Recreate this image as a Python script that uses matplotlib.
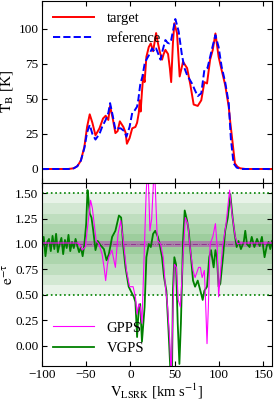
import numpy as np
import matplotlib
matplotlib.use("Agg")
import matplotlib.pyplot as plt

plt.rcParams['font.family'] = ['Liberation Serif', 'DejaVu Serif']
plt.rcParams['mathtext.fontset'] = 'stix'
plt.rcParams['font.size'] = 10

# emission spectra (top panel)
target_v = [-100, -70, -64, -60, -56, -52, -49, -46, -43, -39.5, -35, -31, -28, -25, -23, -20, -17,
            -14.5, -12, -8, -5.5, -4, -1, 2, 5.6, 7.5, 9.4, 10.5, 11.5, 13, 14.5, 16, 18, 20.7, 23,
            25.6, 29, 31, 33, 35.7, 37.5, 39.5, 42.5, 44.5, 46, 48, 49.6, 52.6, 55.6, 59.4, 64, 67.7,
            71.4, 76, 80, 83.5, 86.5, 90, 93, 96, 99.6, 103, 107, 111, 113, 115, 118, 121, 124, 130, 160]
target_T = [0, 0, 0.5, 2, 6, 16, 30, 39, 33, 24, 29, 36, 38, 35, 45, 36, 25.6,
            27, 34, 30, 26, 18, 22, 29, 30, 33, 40, 49, 41, 55, 67, 62, 80, 87, 89.6,
            84, 97, 90, 84, 78, 82, 85, 82, 72, 62, 90, 104, 97, 66, 76.5, 72, 60,
            46, 45, 49, 62, 61, 78, 85, 96.7, 80, 70.6, 60, 44.5, 32, 21, 4, 1.5, 0.5, 0, 0]

ref_v = [-100, -70, -64, -60, -56, -52, -49, -46, -43, -39.5, -35, -32, -28, -25, -23, -20, -17,
         -14, -11, -7, -4.5, -1, 2, 5, 7.5, 9, 11, 13.5, 16, 18, 20.7, 24.4, 27, 29, 31.5, 34,
         36.5, 39.5, 42, 44, 46, 48.5, 50.7, 52.5, 54.5, 58, 61, 64, 69.5, 73, 76, 80, 83.5, 87,
         90, 93, 96, 99.6, 103, 107, 111, 113.5, 116.5, 120, 125, 160]
ref_T = [0, 0, 0.5, 2, 6, 15, 26, 31.5, 25, 21, 25, 30, 35, 40, 47, 38, 28,
         29, 29, 27, 23, 30, 40, 42, 44.5, 50, 60, 66, 75, 78, 81, 86, 84, 86, 82, 78,
         85, 92, 90, 89.6, 92, 100, 107, 103, 98, 82, 72, 67, 61, 56, 52, 54, 70.6, 72,
         80, 88, 95.5, 87, 73, 62, 47, 21, 4, 1, 0, 0]

# absorption spectra (bottom panel), (velocity, e^-tau)
vgps = [(-100, 0.97), (-98, 1.07), (-96, 0.88), (-94, 1.02), (-92, 1.05), (-90, 0.93), (-88, 1.08),
        (-86, 0.95), (-84, 1.1), (-82, 0.92), (-80, 1.0), (-78, 1.06), (-76, 0.9), (-74, 1.04),
        (-72, 0.96), (-70, 1.09), (-68, 0.93), (-66, 1.02), (-64, 0.96), (-62, 1.05), (-60, 0.98),
        (-58, 0.92), (-56, 0.97), (-54, 0.88), (-52, 1.0), (-50, 1.2), (-48.5, 1.53), (-47.5, 1.45),
        (-46, 1.3), (-44, 1.26), (-42, 1.13), (-39.5, 0.94), (-37, 1.03), (-34, 0.99), (-30, 0.95),
        (-27, 0.84), (-24.4, 0.9), (-20.7, 1.07), (-17, 1.13), (-13, 1.28), (-10.5, 1.26), (-8, 0.97),
        (-5.6, 0.77), (-2, 0.58), (2, 0.51), (3.8, 0.48), (5.6, 0.43), (7.5, 0.085), (9.4, 0.38),
        (11, 0.41), (13, 0.04), (16, 0.38), (18, 0.87), (20.7, 1.0), (23, 0.97), (25.6, 1.1),
        (28, 1.13), (31, 1.07), (33, 1.0), (35.7, 0.87), (38, 0.67), (40.6, 0.54), (43, 0.15),
        (45, -0.22), (47, -0.22), (48, 0.54), (49.6, 0.87), (51.5, 0.8), (53.4, 0.22), (55.3, -0.18),
        (57, 0.22), (59.4, 1.03), (61.3, 1.33), (64, 1.23), (65.8, 1.13), (68.4, 0.87), (70.7, 0.64),
        (73, 0.58), (76, 0.64), (79, 0.54), (81.6, 0.45), (83.5, 0.54), (86.5, 0.58), (89, 0.87),
        (91, 0.94), (94, 0.77), (96, 0.94), (97.7, 0.87), (99.6, 0.58), (101.5, 0.61), (104.5, 0.87),
        (107, 1.13), (110, 1.26), (112.8, 1.49), (115.4, 1.26), (117.7, 1.1), (120, 0.97), (122, 1.03),
        (124.8, 0.95), (128, 1.02), (129.7, 1.13), (131.6, 1.0), (134.6, 0.97), (137, 1.07), (140, 0.97),
        (143, 1.05), (146, 0.98), (148.5, 1.07), (151.5, 0.87), (154, 0.98), (156, 1.02), (158, 0.95),
        (160, 1.03)]

gpps = [(-100, 1.01), (-60, 1.01), (-57, 0.99), (-54.5, 0.94), (-51, 0.97), (-48, 1.2), (-45, 1.43),
        (-43, 1.35), (-41, 1.2), (-38.7, 1.03), (-35.7, 1.0), (-32, 0.9), (-29.5, 0.75), (-28, 0.64),
        (-26, 0.8), (-24.4, 0.87), (-21, 0.94), (-17, 0.77), (-14, 1.1), (-11, 1.23), (-8, 1.03),
        (-4.5, 0.74), (-1, 0.58), (3, 0.58), (5.6, 0.48), (7.5, 0.31), (9.4, 0.41), (11, 0.38),
        (13, 0.22), (16, 1.03), (17.7, 1.49), (19, 1.7), (20.3, 1.62), (22, 1.13), (24, 1.25),
        (26.5, 1.7), (27.8, 1.62), (30, 1.12), (31, 1.03), (34, 1.0), (37, 0.87), (39.5, 0.58), (42, 0.38),
        (44.4, 0.05), (46, -0.3), (48, 0.35), (49.6, 0.8), (52, 0.77), (54, 0.45), (56.4, 0.38),
        (59.4, 0.87), (62, 1.26), (64.7, 1.2), (67.7, 0.94), (70.7, 0.74), (73, 0.67), (77, 0.77),
        (79, 0.77), (81, 0.67), (83.5, 0.74), (85, 0.4), (86.5, 0.02), (88, 0.38), (90, 1.0),
        (93, 1.07), (96, 1.2), (98, 0.97), (99.6, 0.48), (101.5, 0.7), (104, 0.97), (108, 1.2),
        (112, 1.53), (114.7, 1.3), (118.4, 1.07), (121, 1.0), (124, 1.01), (160, 1.01)]

vgps = np.array(vgps)
gpps = np.array(gpps)

fig = plt.figure(figsize=(2.74, 4.0), dpi=100)
ax1 = fig.add_axes([0.153, 0.5425, 0.84, 0.4555])
ax2 = fig.add_axes([0.153, 0.085, 0.84, 0.4575], sharex=ax1)

ax1.plot(target_v, target_T, color='red', lw=1.4, label='target')
ax1.plot(ref_v, ref_T, color='blue', lw=1.4, ls='--', label='reference')
ax1.set_ylim(-10, 120)
ax1.set_yticks([0, 25, 50, 75, 100])
ax1.set_ylabel(r'$\mathrm{T_B}$ [K]', fontsize=11)
ax1.yaxis.set_label_coords(-0.115, 0.5)
ax1.legend(loc='upper left', frameon=False, handlelength=2.8, handletextpad=0.9,
           borderaxespad=0.35, fontsize=10.5)
ax1.tick_params(labelbottom=False)

# noise bands around unity
for k in range(1, 6):
    ax2.axhspan(1 - 0.1 * k, 1 + 0.1 * k, color='green', alpha=0.09, lw=0)
ax2.axhline(0.5, color='green', ls=':', lw=1.2)
ax2.axhline(1.5, color='green', ls=':', lw=1.2)
ax2.axhspan(0.975, 1.025, color='m', alpha=0.35, lw=0)
ax2.axhline(1.0, color='purple', ls='-.', lw=0.6, alpha=0.7)

l_v, = ax2.plot(vgps[:, 0], vgps[:, 1], color='green', lw=1.3, label='VGPS')
l_g, = ax2.plot(gpps[:, 0], gpps[:, 1], color='magenta', lw=0.8, label='GPPS')
ax2.legend(handles=[l_g, l_v], loc='lower left', frameon=False, handlelength=2.8,
           handletextpad=0.9, borderaxespad=0.35, fontsize=10.5)
ax2.set_ylim(-0.2, 1.6)
ax2.set_yticks([0, 0.25, 0.5, 0.75, 1.0, 1.25, 1.5])
ax2.set_yticklabels(['0.00', '0.25', '0.50', '0.75', '1.00', '1.25', '1.50'])
ax2.set_xlim(-100, 160)
ax2.set_xticks([-100, -50, 0, 50, 100, 150])
ax2.set_ylabel(r'$\mathrm{e^{-\tau}}$', fontsize=11)
ax2.yaxis.set_label_coords(-0.115, 0.5)
ax2.set_xlabel(r'$\mathrm{V_{LSRK}}$ [km s$^{-1}$]', labelpad=0, fontsize=10.5)

for ax in (ax1, ax2):
    ax.tick_params(direction='in', top=True, right=True, labelsize=9.5, pad=2.5)

fig.savefig('out.png', dpi=100)
